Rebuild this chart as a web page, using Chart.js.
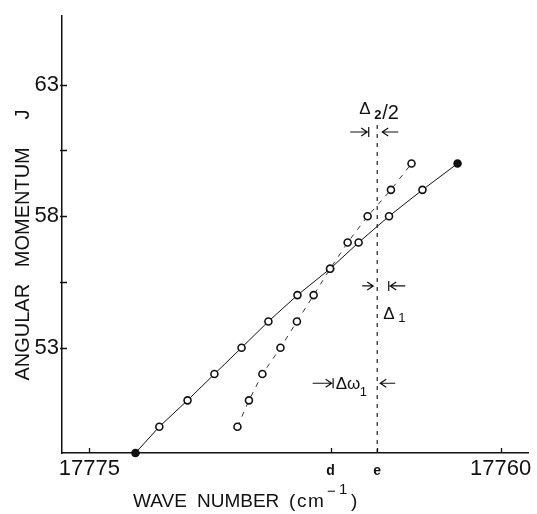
<!DOCTYPE html>
<html>
<head>
<meta charset="utf-8">
<script src="https://cdn.jsdelivr.net/npm/chart.js@4.4.1/dist/chart.umd.min.js"></script>
<style>
  html, body { margin: 0; padding: 0; background: #fff; }
  canvas { display: block; }
</style>
</head>
<body>
<canvas id="momentumChart" width="537" height="514"></canvas>
<script>
// solid branch (straight line fit)
const jSolid = [49, 50, 51, 52, 53, 54, 55, 56, 57, 58, 59, 60];
const waveSolid = [17773.32, 17772.45, 17771.42, 17770.44, 17769.45, 17768.47,
  17767.41, 17766.22, 17765.18, 17764.07, 17762.85, 17761.57];

// dashed branch (perturbed levels)
const jDashed = [50, 51, 52, 53, 54, 55, 56, 57, 58, 59, 60];
const waveDashed = [17769.60, 17769.18, 17768.69, 17768.03, 17767.43, 17766.82,
  17766.22, 17765.58, 17764.85, 17764.00, 17763.25];

// axis ticks
const xTickValues = [17775, 17766.2, 17764.5, 17760];
const xTickLabels = ["17775", "d", "e", "17760"];
const yTickValues = [53, 55.5, 58, 60.5, 63];
const yTickLabels = ["53", "", "58", "", "63"];

// vertical marker at e
const eLineJ = [49, 61.5];

const dValue = xTickValues[1];
const eValue = xTickValues[2];
const ink = "#111";
const sans = "'Liberation Sans', Arial, sans-serif";

function arrow(ctx, from, to, yy, bar) {
  const dir = to > from ? 1 : -1;
  ctx.beginPath();
  ctx.moveTo(from, yy);
  ctx.lineTo(to, yy);
  ctx.moveTo(to - dir * 6, yy - 4);
  ctx.lineTo(to, yy);
  ctx.lineTo(to - dir * 6, yy + 4);
  if (bar) {
    ctx.moveTo(to + dir * 1.5, yy - 5);
    ctx.lineTo(to + dir * 1.5, yy + 5);
  }
  ctx.stroke();
}

const decorations = {
  id: "decorations",
  afterDraw(chart) {
    const { ctx, chartArea } = chart;
    const xs = chart.scales.x;
    const ys = chart.scales.y;
    ctx.save();
    ctx.strokeStyle = ink;
    ctx.fillStyle = ink;
    ctx.lineWidth = 1.3;

    // inward tick marks
    ctx.beginPath();
    xTickValues.forEach(v => {
      const px = Math.round(xs.getPixelForValue(v)) + 0.5;
      ctx.moveTo(px, chartArea.bottom);
      ctx.lineTo(px, chartArea.bottom - 5);
    });
    yTickValues.forEach(v => {
      const py = Math.round(ys.getPixelForValue(v)) + 0.5;
      ctx.moveTo(chartArea.left - 2, py);
      ctx.lineTo(chartArea.left + 5, py);
    });
    ctx.stroke();

    // y title
    ctx.save();
    ctx.translate(29, 245);
    ctx.rotate(-Math.PI / 2);
    ctx.font = "20px " + sans;
    ctx.textAlign = "center";
    ctx.textBaseline = "alphabetic";
    ctx.fillText("ANGULAR   MOMENTUM     J", 0, 0);
    ctx.restore();

    // x title, spaced like the hand lettering
    ctx.textBaseline = "alphabetic";
    ctx.textAlign = "left";
    ctx.font = "19px " + sans;
    ctx.fillText("WAVE", 133, 507);
    ctx.fillText("NUMBER", 197, 507);
    ctx.fillText("(", 289, 507);
    ctx.fillText("c", 297, 507);
    ctx.fillText("m", 308, 507);
    ctx.font = "15px " + sans;
    ctx.fillText("\u2212", 327, 496);
    ctx.fillText("1", 339, 494);
    ctx.font = "19px " + sans;
    ctx.fillText(")", 351, 507);

    // annotations around the e line
    const ex = xs.getPixelForValue(eValue);
    const dx = xs.getPixelForValue(dValue);
    ctx.lineWidth = 1.2;

    // delta_2 / 2
    let yy = ys.getPixelForValue(61.2);
    arrow(ctx, ex - 27, ex - 10, yy, true);
    arrow(ctx, ex + 21, ex + 5, yy, false);
    ctx.font = "17px " + sans;
    ctx.fillText("\u0394", ex - 18, yy - 18);
    ctx.font = "bold 13px " + sans;
    ctx.fillText("2", ex - 3, yy - 13);
    ctx.font = "20px " + sans;
    ctx.fillText("/2", ex + 5, yy - 13);

    // delta_1
    yy = ys.getPixelForValue(55.35);
    arrow(ctx, ex - 15, ex - 4, yy, false);
    arrow(ctx, ex + 28, ex + 13, yy, true);
    ctx.font = "17px " + sans;
    ctx.fillText("\u0394", ex + 6, yy + 33);
    ctx.font = "13px " + sans;
    ctx.fillText("1", ex + 21, yy + 36);

    // delta omega_1
    yy = ys.getPixelForValue(51.65);
    arrow(ctx, dx - 18, dx + 1, yy, true);
    arrow(ctx, ex + 18, ex + 3, yy, false);
    ctx.font = "17px " + sans;
    ctx.fillText("\u0394\u03c9", dx + 5, yy + 6);
    ctx.font = "13px " + sans;
    ctx.fillText("1", dx + 29, yy + 13);

    ctx.restore();
  }
};

new Chart(document.getElementById("momentumChart"), {
  type: "line",
  data: {
    datasets: [
      {
        data: jSolid.map((j, i) => ({ x: waveSolid[i], y: j })),
        borderColor: ink,
        borderWidth: 1,
        pointRadius: 3.5,
        pointBorderWidth: 1.6,
        pointBorderColor: ink,
        pointBackgroundColor: jSolid.map((j, i) => (i === 0 || i === jSolid.length - 1) ? ink : "#fff"),
        tension: 0,
        clip: false,
      },
      {
        data: jDashed.map((j, i) => ({ x: waveDashed[i], y: j })),
        borderColor: "#333",
        borderWidth: 1,
        borderDash: [5, 6],
        pointRadius: 3.5,
        pointBorderWidth: 1.6,
        pointBorderColor: ink,
        pointBackgroundColor: "#fff",
        tension: 0,
        clip: false,
      },
      {
        data: eLineJ.map(j => ({ x: eValue, y: j })),
        borderColor: "#333",
        borderWidth: 1.3,
        borderDash: [4, 5],
        pointRadius: 0,
        clip: false,
      },
    ],
  },
  options: {
    responsive: false,
    animation: false,
    layout: { padding: { top: 13, right: 9, left: 0, bottom: 0 } },
    plugins: {
      legend: { display: false },
      tooltip: { enabled: false },
    },
    scales: {
      x: {
        type: "linear",
        reverse: true,
        min: 17759,
        max: 17776,
        afterBuildTicks: (axis) => {
          axis.ticks = xTickValues.map(v => ({ value: v }));
        },
        afterFit: (axis) => { axis.height = 61; },
        grid: { display: false, drawTicks: false },
        border: { color: ink, width: 1.5 },
        ticks: {
          autoSkip: false,
          maxRotation: 0,
          padding: 3,
          color: ink,
          callback: (value, index) => xTickLabels[index],
          font: (c) => (c.index === 1 || c.index === 2)
            ? { family: sans, size: 14, weight: "bold", lineHeight: 2.1 }
            : { family: sans, size: 22 },
        },
      },
      y: {
        type: "linear",
        min: 49,
        max: 65.6,
        afterBuildTicks: (axis) => {
          axis.ticks = yTickValues.map(v => ({ value: v }));
        },
        afterFit: (axis) => { axis.width = 62; },
        grid: { display: false, drawTicks: false },
        border: { color: ink, width: 1.5 },
        ticks: {
          autoSkip: false,
          padding: 3,
          color: ink,
          callback: (value, index) => yTickLabels[index],
          font: { family: sans, size: 22 },
        },
      },
    },
  },
  plugins: [decorations],
});
</script>
</body>
</html>
